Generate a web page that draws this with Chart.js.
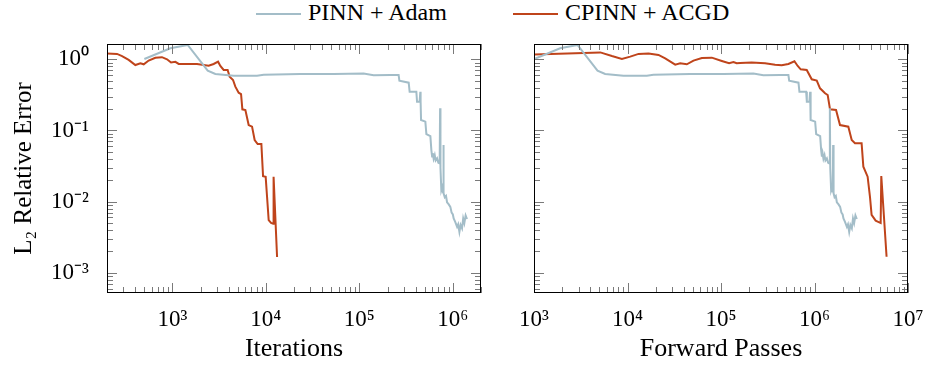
<!DOCTYPE html>
<html lang="en">
<head>
<meta charset="UTF-8">
<title>L2 Relative Error</title>
<script src="https://cdn.jsdelivr.net/npm/chart.js"></script>
<style>
  body { margin: 0; width: 925px; height: 365px; overflow: hidden; background: #fff; position: relative; font-family: "Liberation Serif", serif; }
  .box { position: absolute; top: 0; }
  .legend-item { position: absolute; top: -2px; height: 28px; line-height: 28px; font-size: 24px; color: #000; white-space: nowrap; }
  .legend-item .swatch { display: inline-block; width: 45px; height: 2px; vertical-align: middle; margin-right: 7px; }
</style>
</head>
<body>

<div class="legend-item" style="left:256px"><span class="swatch" id="sw0"></span><span id="lg0"></span></div>
<div class="legend-item" style="left:513px"><span class="swatch" id="sw1"></span><span id="lg1"></span></div>

<div class="box" style="left:0px"><canvas id="chartIter" width="495" height="365"></canvas></div>
<div class="box" style="left:490px"><canvas id="chartPass" width="440" height="365"></canvas></div>

<script>
// series
const seriesNames = ['PINN + Adam', 'CPINN + ACGD'];
const seriesColors = ['#a3bdc8', '#bf441b'];

// left panel: error vs iterations
const pinnIterX = [502, 952, 1459, 2389, 2883, 4530, 8050, 9480, 23400, 53100, 111000, 142000, 215000, 263000, 268000, 337000, 345000, 407000, 414000, 441000, 449000, 452000, 457000, 508000, 521000, 575000, 589000, 600000, 610000, 623000, 640000, 655000, 678000, 700000, 723000, 730000, 737000, 753000, 770000, 785000, 791000, 800000, 820000, 845000, 867000, 900000, 940000, 970000, 1000000, 1020000, 1060000, 1110000, 1140000, 1175000, 1210000, 1254000, 1290000, 1327000, 1370000, 1418000];
const pinnIterY = [1.01, 1.43, 1.59, 0.693, 0.622, 0.589, 0.589, 0.608, 0.622, 0.622, 0.629, 0.595, 0.601, 0.601, 0.50, 0.469, 0.350, 0.350, 0.253, 0.253, 0.350, 0.253, 0.140, 0.133, 0.089, 0.083, 0.053, 0.043, 0.048, 0.040, 0.045, 0.038, 0.0405, 0.035, 0.0343, 0.205, 0.030, 0.0145, 0.016, 0.0135, 0.0624, 0.0131, 0.0115, 0.0120, 0.0098, 0.0092, 0.00845, 0.0070, 0.0066, 0.0058, 0.0052, 0.00442, 0.0048, 0.00376, 0.0047, 0.0042, 0.0058, 0.0050, 0.0064, 0.0057];

const cpinnIterX = [200, 256, 290, 341, 402, 455, 494, 558, 658, 774, 877, 968, 1077, 1169, 1436, 1835, 2443, 2765, 3083, 3260, 3537, 3902, 4100, 4457, 4718, 5118, 5429, 5608, 6040, 6551, 7117, 7590, 8170, 8955, 9333, 9955, 10300, 10720, 11370, 12000, 12100, 13180];
const cpinnIterY = [1.21, 1.19, 1.11, 0.98, 0.83, 0.88, 0.85, 0.96, 1.05, 1.07, 1.0, 0.90, 0.92, 0.86, 0.86, 0.86, 0.813, 0.859, 0.925, 0.805, 0.707, 0.707, 0.569, 0.512, 0.412, 0.339, 0.325, 0.198, 0.194, 0.119, 0.113, 0.0733, 0.0644, 0.0644, 0.0228, 0.0223, 0.0117, 0.0055, 0.00503, 0.0049, 0.0223, 0.00167];

// right panel: error vs forward passes
const pinnPassX = [1004, 1904, 2918, 4778, 5766, 9060, 16100, 18960, 46800, 106200, 222000, 284000, 430000, 526000, 536000, 674000, 690000, 814000, 828000, 882000, 898000, 904000, 914000, 1016000, 1042000, 1150000, 1178000, 1200000, 1220000, 1246000, 1280000, 1310000, 1356000, 1400000, 1446000, 1460000, 1474000, 1506000, 1540000, 1570000, 1582000, 1600000, 1640000, 1690000, 1734000, 1800000, 1880000, 1940000, 2000000, 2040000, 2120000, 2220000, 2280000, 2350000, 2420000, 2508000, 2580000, 2654000, 2740000, 2836000];
const pinnPassY = pinnIterY;

const cpinnPassX = [1000, 5120, 6810, 8710, 10690, 13130, 16790, 21460, 25300, 32400, 36600, 43100, 50800, 62400, 79800, 102000, 122000, 136000, 147000, 160000, 213000, 296000, 379000, 446000, 526000, 610000, 661000, 712000, 826000, 934000, 1057000, 1146000, 1297000, 1384000, 1466000, 1700000, 1874000, 2300000, 2500000, 2710000, 3190000, 3330000, 3700000, 3920000, 4080000, 4510000, 5100000, 5180000, 5900000];
const cpinnPassY = [1.163, 1.25, 1.11, 1.01, 1.09, 1.19, 1.21, 1.15, 1.03, 0.841, 0.879, 0.85, 0.958, 1.044, 1.055, 0.947, 0.879, 0.917, 0.879, 0.89, 0.90, 0.879, 0.841, 0.823, 0.86, 0.937, 0.806, 0.723, 0.708, 0.523, 0.501, 0.391, 0.333, 0.315, 0.198, 0.194, 0.119, 0.113, 0.0733, 0.0663, 0.0663, 0.0309, 0.0224, 0.0117, 0.0065, 0.0054, 0.0050, 0.0229, 0.00168];

// axes
const iterRange = [200, 2e6];
const passRange = [1e3, 1e7];
const errRange = [5.2e-4, 1.64];
const iterTicks = [1e3, 1e4, 1e5, 1e6];
const passTicks = [1e3, 1e4, 1e5, 1e6, 1e7];
const errTicks = [1e-3, 1e-2, 1e-1, 1e0];

Chart.defaults.font.family = '"Liberation Serif", serif';
Chart.defaults.color = '#000';

seriesNames.forEach(function (n, i) {
  document.getElementById('lg' + i).textContent = n;
  document.getElementById('sw' + i).style.background = seriesColors[i];
});

const sup = {'0':'⁰','1':'¹','2':'²','3':'³','4':'⁴','5':'⁵','6':'⁶','7':'⁷','8':'⁸','9':'⁹','-':'⁻'};
function powLabel(v) {
  const e = Math.round(Math.log10(v));
  return '10' + String(e).split('').map(c => sup[c]).join('');
}

function pts(xs, ys) {
  return xs.map((x, i) => ({ x: x, y: ys[i] }));
}

function logMarks(min, max) {
  const out = [];
  for (let e = Math.floor(Math.log10(min)); e <= Math.ceil(Math.log10(max)); e++) {
    for (let m = 1; m < 10; m++) {
      const v = m * Math.pow(10, e);
      if (v >= min * 0.999 && v <= max * 1.001) out.push([v, m === 1]);
    }
  }
  return out;
}

// inward ticks on all four sides + black frame
const frameTicks = {
  id: 'frameTicks',
  afterDraw(chart) {
    const { ctx, chartArea: a, scales } = chart;
    const x = scales.x, y = scales.y;
    ctx.save();
    ctx.strokeStyle = '#7a7a7a';
    ctx.lineWidth = 1;
    ctx.beginPath();
    logMarks(x.min, x.max).forEach(([v, major]) => {
      const px = Math.round(x.getPixelForValue(v)) + 0.5;
      const len = major ? 10 : 6;
      ctx.moveTo(px, a.bottom); ctx.lineTo(px, a.bottom - len);
      ctx.moveTo(px, a.top); ctx.lineTo(px, a.top + len);
    });
    logMarks(y.min, y.max).forEach(([v, major]) => {
      const py = Math.round(y.getPixelForValue(v)) + 0.5;
      const len = major ? 10 : 6;
      ctx.moveTo(a.left, py); ctx.lineTo(a.left + len, py);
      ctx.moveTo(a.right, py); ctx.lineTo(a.right - len, py);
    });
    ctx.stroke();
    ctx.strokeStyle = '#000';
    ctx.strokeRect(Math.round(a.left) + 0.5, Math.round(a.top) + 0.5,
      Math.round(a.right - a.left) - 1, Math.round(a.bottom - a.top) - 1);
    ctx.restore();
  }
};

function makeChart(id, datasetsXY, xRange, xTicks, xTitle, showY, padding) {
  return new Chart(document.getElementById(id), {
    type: 'line',
    data: {
      datasets: datasetsXY.map((d, i) => ({
        label: seriesNames[i],
        data: pts(d[0], d[1]),
        borderColor: seriesColors[i],
        borderWidth: 2,
        pointRadius: 0,
        tension: 0,
        fill: false
      }))
    },
    options: {
      responsive: false,
      animation: false,
      layout: { padding: padding },
      plugins: { legend: { display: false }, tooltip: { enabled: false } },
      scales: {
        x: {
          type: 'logarithmic',
          min: xRange[0],
          max: xRange[1],
          grid: { display: false },
          border: { display: false },
          afterBuildTicks: s => { s.ticks = xTicks.map(v => ({ value: v })); },
          afterFit: s => { s.height = 72; },
          ticks: { font: { size: 23 }, padding: 5, maxRotation: 0, callback: v => powLabel(v) },
          title: { display: true, text: xTitle, font: { size: 26 }, padding: { top: 0, bottom: 0 } }
        },
        y: {
          type: 'logarithmic',
          display: showY,
          min: errRange[0],
          max: errRange[1],
          grid: { display: false },
          border: { display: false },
          afterBuildTicks: s => { s.ticks = errTicks.map(v => ({ value: v })); },
          afterFit: s => { s.width = showY ? 107 : 0; },
          ticks: { font: { size: 23 }, padding: 10, callback: v => powLabel(v) },
          title: { display: true, text: 'L₂ Relative Error', font: { size: 25 }, padding: { top: 9, bottom: 0 } }
        }
      }
    },
    plugins: [frameTicks]
  });
}

makeChart('chartIter', [[pinnIterX, pinnIterY], [cpinnIterX, cpinnIterY]], iterRange, iterTicks, 'Iterations', true,
  { top: 44, right: 14, left: 0, bottom: 0 });
makeChart('chartPass', [[pinnPassX, pinnPassY], [cpinnPassX, cpinnPassY]], passRange, passTicks, 'Forward Passes', false,
  { top: 44, right: 22, left: 44, bottom: 0 });
</script>
</body>
</html>
